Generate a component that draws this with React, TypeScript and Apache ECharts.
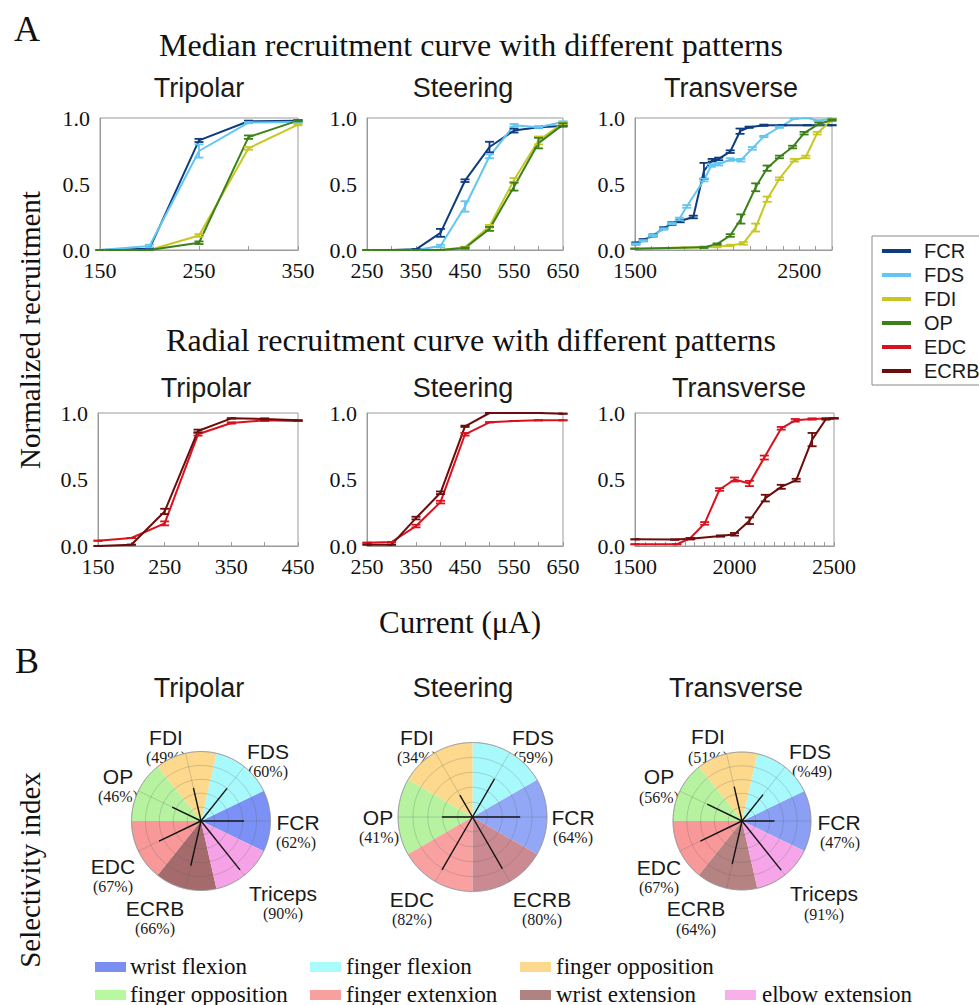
import React, { useEffect, useRef } from "react";
import * as echarts from "echarts";

const SERIF = "'Liberation Serif', 'Times New Roman', serif";
const SANS = "'Liberation Sans', Arial, sans-serif";

// ---------------- Panel A data ----------------
// Median, Tripolar
const medTriX = [150, 200, 250, 300, 350];
const medTriFCR = [0, 0.01, 0.83, 0.975, 0.98];
const medTriFCRErr = [0, 0.005, 0.012, 0.005, 0.005];
const medTriFDS = [0, 0.03, 0.75, 0.965, 0.97];
const medTriFDSErr = [0, 0.01, 0.05, 0.005, 0.005];
const medTriFDI = [0, 0.0, 0.11, 0.77, 0.95];
const medTriFDIErr = [0, 0, 0.01, 0.01, 0.005];
const medTriOP = [0, 0.0, 0.055, 0.855, 0.98];
const medTriOPErr = [0, 0, 0.01, 0.013, 0.005];

// Median, Steering
const medSteX = [250, 300, 350, 400, 450, 500, 550, 600, 650];
const medSteFCR = [0, 0, 0.005, 0.13, 0.525, 0.78, 0.905, 0.93, 0.94];
const medSteFCRErr = [0, 0, 0, 0.03, 0.01, 0.04, 0.015, 0.005, 0.005];
const medSteFDS = [0, 0, 0, 0.03, 0.33, 0.71, 0.945, 0.93, 0.97];
const medSteFDSErr = [0, 0, 0, 0.01, 0.04, 0.015, 0.01, 0.005, 0.005];
const medSteFDI = [0, 0, 0, 0, 0.02, 0.18, 0.53, 0.83, 0.96];
const medSteFDIErr = [0, 0, 0, 0, 0.005, 0.01, 0.015, 0.03, 0.01];
const medSteOP = [0, 0, 0, 0, 0.015, 0.16, 0.48, 0.81, 0.95];
const medSteOPErr = [0, 0, 0, 0, 0.005, 0.015, 0.03, 0.04, 0.01];

// Median, Transverse
const medTrvFCRX = [1505, 1550, 1610, 1675, 1725, 1775, 1855, 1920, 1970, 2010, 2080, 2140, 2195, 2285, 2400, 2550, 2700];
const medTrvFCR = [0.05, 0.075, 0.11, 0.165, 0.2, 0.22, 0.25, 0.6, 0.68, 0.69, 0.745, 0.9, 0.93, 0.945, 0.945, 0.945, 0.945];
const medTrvFCRErr = [0.008, 0.008, 0.008, 0.008, 0.01, 0.01, 0.01, 0.06, 0.01, 0.01, 0.01, 0.02, 0.005, 0.005, 0, 0, 0];
const medTrvFDSX = [1505, 1550, 1610, 1675, 1725, 1770, 1815, 1920, 1965, 2010, 2080, 2145, 2215, 2285, 2380, 2470, 2550, 2615, 2700];
const medTrvFDS = [0.045, 0.07, 0.11, 0.16, 0.2, 0.235, 0.33, 0.53, 0.64, 0.65, 0.685, 0.68, 0.77, 0.86, 0.93, 0.995, 1.0, 0.98, 0.995];
const medTrvFDSErr = [0.005, 0.005, 0.005, 0.005, 0.005, 0.01, 0.01, 0.01, 0.01, 0.01, 0.01, 0.01, 0.01, 0.005, 0.005, 0, 0, 0, 0];
const medTrvFDIX = [1500, 2000, 2080, 2160, 2235, 2305, 2380, 2470, 2540, 2610, 2700];
const medTrvFDI = [0.01, 0.025, 0.035, 0.05, 0.17, 0.385, 0.54, 0.68, 0.705, 0.885, 0.985];
const medTrvFDIErr = [0, 0.005, 0.005, 0.01, 0.03, 0.02, 0.01, 0.01, 0.01, 0.01, 0.005];
const medTrvOPX = [1500, 1920, 2000, 2080, 2145, 2235, 2305, 2380, 2460, 2530, 2620, 2700];
const medTrvOP = [0.01, 0.02, 0.045, 0.11, 0.235, 0.475, 0.62, 0.705, 0.78, 0.885, 0.955, 0.985];
const medTrvOPErr = [0, 0.005, 0.005, 0.01, 0.035, 0.03, 0.02, 0.01, 0.01, 0.01, 0.01, 0.005];

// Radial, Tripolar
const radTriX = [150, 200, 250, 300, 350, 400, 450];
const radTriEDC = [0.04, 0.06, 0.17, 0.84, 0.925, 0.945, 0.94];
const radTriEDCErr = [0, 0, 0.015, 0.01, 0.005, 0.005, 0];
const radTriECRB = [0.0, 0.01, 0.26, 0.865, 0.96, 0.955, 0.945];
const radTriECRBErr = [0, 0, 0.02, 0.01, 0, 0.005, 0];

// Radial, Steering
const radSteX = [250, 300, 350, 400, 450, 500, 550, 600, 650];
const radSteEDC = [0.025, 0.03, 0.15, 0.33, 0.84, 0.93, 0.94, 0.945, 0.945];
const radSteEDCErr = [0, 0, 0.01, 0.01, 0.01, 0, 0, 0, 0];
const radSteECRB = [0.01, 0.01, 0.21, 0.4, 0.9, 1.0, 1.0, 1.0, 0.995];
const radSteECRBErr = [0, 0, 0.01, 0.01, 0.005, 0, 0, 0, 0];

// Radial, Transverse
const radTrvEDCX = [1500, 1710, 1775, 1850, 1925, 2000, 2075, 2150, 2235, 2305, 2390, 2500];
const radTrvEDC = [0.013, 0.013, 0.055, 0.17, 0.425, 0.5, 0.47, 0.665, 0.885, 0.945, 0.955, 0.96];
const radTrvEDCErr = [0, 0, 0.005, 0.01, 0.01, 0.015, 0.02, 0.015, 0.01, 0.01, 0.005, 0];
const radTrvECRBX = [1500, 1700, 1780, 1930, 2000, 2075, 2155, 2235, 2310, 2390, 2460, 2500];
const radTrvECRB = [0.05, 0.048, 0.055, 0.075, 0.088, 0.19, 0.36, 0.445, 0.495, 0.8, 0.955, 0.96];
const radTrvECRBErr = [0, 0, 0.005, 0.005, 0.01, 0.025, 0.025, 0.015, 0.01, 0.05, 0.005, 0];

const lineLegend = ["FCR", "FDS", "FDI", "OP", "EDC", "ECRB"];
const subTitles = ["Tripolar", "Steering", "Transverse"];

// ---------------- Panel B data ----------------
const triNames = ["FCR", "FDS", "FDI", "OP", "EDC", "ECRB", "Triceps"];
const triSel = [0.62, 0.6, 0.49, 0.46, 0.67, 0.66, 0.9];
const triPct = ["(62%)", "(60%)", "(49%)", "(46%)", "(67%)", "(66%)", "(90%)"];
const steNames = ["FCR", "FDS", "FDI", "OP", "EDC", "ECRB"];
const steSel = [0.64, 0.59, 0.34, 0.41, 0.82, 0.8];
const stePct = ["(64%)", "(59%)", "(34%)", "(41%)", "(82%)", "(80%)"];
const trvNames = ["FCR", "FDS", "FDI", "OP", "EDC", "ECRB", "Triceps"];
const trvSel = [0.47, 0.49, 0.51, 0.56, 0.67, 0.64, 0.91];
const trvPct = ["(47%)", "(%49)", "(51%)", "(56%)", "(67%)", "(64%)", "(91%)"];

const movementLabels = [
  "wrist flexion", "finger flexion", "finger opposition",
  "finger opposition", "finger extenxion", "wrist extension", "elbow extension",
];

// ---------------- styles / layout ----------------
const LINE_COLORS: Record<string, string> = {
  FCR: "#0e3c7e", FDS: "#62c6f2", FDI: "#c7c724", OP: "#3c8019", EDC: "#d9111e", ECRB: "#6c0c0c",
};
const LEGEND_SWATCH = ["#7b8ff0", "#aafcfc", "#fdd990", "#b8f8a0", "#f8a0a0", "#b08282", "#f8b0e8"];
const SECTOR_COLORS = [
  ["#7b91f5", "#a8f9fb", "#fcd98c", "#b6f2a0", "#f89898", "#a56b6c", "#f6a2e6"],
  ["#93a7f7", "#a8f9fb", "#fcd98c", "#b6f2a0", "#f9a1a1", "#cb8a91"],
  ["#8b9ff5", "#a8f9fb", "#fcd98c", "#b6f2a0", "#f89898", "#b48382", "#f6a6e8"],
];

const GRIDS = [
  { left: 100, top: 118, width: 198, height: 132, min: 150, max: 350, interval: 50, step: 100 },
  { left: 367, top: 118, width: 196, height: 132, min: 250, max: 650, interval: 50, step: 100 },
  { left: 635, top: 118, width: 197, height: 132, min: 1500, max: 2700, interval: 100, step: 1000 },
  { left: 98, top: 413, width: 200, height: 133, min: 150, max: 450, interval: 50, step: 100 },
  { left: 367, top: 413, width: 196, height: 133, min: 250, max: 650, interval: 50, step: 100 },
  { left: 635, top: 413, width: 199, height: 133, min: 1500, max: 2500, interval: 50, step: 500 },
];
const SUBTITLE_POS = [
  [199, 88], [463, 88], [731, 88],
  [206, 388], [463, 388], [739, 388],
  [199, 688], [463, 688], [736, 688],
];
const POLARS = [
  { center: [201, 821], r: 69.5 },
  { center: [472.5, 817], r: 74.5 },
  { center: [742, 821], r: 69 },
];
// [nameX, nameY, pctX, pctY] per category
const POLAR_LABEL_POS = [
  [[298, 822, 296, 842], [268, 751, 268, 771], [166, 737, 166, 757], [118, 776, 118, 796], [113, 866, 113, 886], [155, 908, 155, 928], [283, 893, 283, 913]],
  [[573, 817, 573, 837], [533, 737, 533, 757], [417, 737, 417, 757], [378, 817, 379, 837], [412, 899, 412, 919], [542, 899, 542, 919]],
  [[839, 822, 840, 842], [810, 751, 812, 771], [708, 736, 708, 757], [659, 776, 659, 797], [659, 867, 659, 887], [696, 908, 696, 929], [824, 893, 824, 914]],
];
const LEGEND_POS = [
  [95, 966, 130], [310, 966, 346], [520, 966, 556],
  [95, 994, 130], [310, 994, 346], [520, 994, 556], [725, 994, 762],
];

type S = { name: string; xs: number[]; ys: number[]; es: number[] };
const PANELS: S[][] = [
  [
    { name: "FCR", xs: medTriX, ys: medTriFCR, es: medTriFCRErr },
    { name: "FDS", xs: medTriX, ys: medTriFDS, es: medTriFDSErr },
    { name: "FDI", xs: medTriX, ys: medTriFDI, es: medTriFDIErr },
    { name: "OP", xs: medTriX, ys: medTriOP, es: medTriOPErr },
  ],
  [
    { name: "FCR", xs: medSteX, ys: medSteFCR, es: medSteFCRErr },
    { name: "FDS", xs: medSteX, ys: medSteFDS, es: medSteFDSErr },
    { name: "FDI", xs: medSteX, ys: medSteFDI, es: medSteFDIErr },
    { name: "OP", xs: medSteX, ys: medSteOP, es: medSteOPErr },
  ],
  [
    { name: "FCR", xs: medTrvFCRX, ys: medTrvFCR, es: medTrvFCRErr },
    { name: "FDS", xs: medTrvFDSX, ys: medTrvFDS, es: medTrvFDSErr },
    { name: "FDI", xs: medTrvFDIX, ys: medTrvFDI, es: medTrvFDIErr },
    { name: "OP", xs: medTrvOPX, ys: medTrvOP, es: medTrvOPErr },
  ],
  [
    { name: "EDC", xs: radTriX, ys: radTriEDC, es: radTriEDCErr },
    { name: "ECRB", xs: radTriX, ys: radTriECRB, es: radTriECRBErr },
  ],
  [
    { name: "EDC", xs: radSteX, ys: radSteEDC, es: radSteEDCErr },
    { name: "ECRB", xs: radSteX, ys: radSteECRB, es: radSteECRBErr },
  ],
  [
    { name: "EDC", xs: radTrvEDCX, ys: radTrvEDC, es: radTrvEDCErr },
    { name: "ECRB", xs: radTrvECRBX, ys: radTrvECRB, es: radTrvECRBErr },
  ],
];
const POLAR_DATA = [
  { names: triNames, sel: triSel, pct: triPct },
  { names: steNames, sel: steSel, pct: stePct },
  { names: trvNames, sel: trvSel, pct: trvPct },
];

function buildOption() {
  const series: any[] = [];
  PANELS.forEach((panel, gi) => {
    panel.forEach((s) => {
      const c = LINE_COLORS[s.name];
      series.push({
        type: "line", name: s.name, xAxisIndex: gi, yAxisIndex: gi,
        data: s.xs.map((x, i) => [x, s.ys[i]]),
        showSymbol: false, symbol: "none", color: c,
        lineStyle: { color: c, width: 2 }, z: 2, silent: true,
      });
    });
  });
  PANELS.forEach((panel, gi) => {
    panel.forEach((s) => {
      const c = LINE_COLORS[s.name];
      series.push({
        type: "custom", name: s.name + " error", xAxisIndex: gi, yAxisIndex: gi,
        coordinateSystem: "cartesian2d",
        data: s.xs.map((x, i) => [x, s.ys[i], s.es[i]]),
        encode: { x: 0, y: 1 }, z: 3, silent: true,
        renderItem: (params: any, api: any) => {
          const x = api.value(0), y = api.value(1), e = api.value(2);
          const a = api.coord([x, y + e]);
          const b = api.coord([x, y - e]);
          const hw = 4.5;
          const style = { stroke: c, lineWidth: 1.8, fill: null };
          return {
            type: "group",
            children: [
              { type: "line", shape: { x1: a[0], y1: a[1], x2: b[0], y2: b[1] }, style },
              { type: "line", shape: { x1: a[0] - hw, y1: a[1], x2: a[0] + hw, y2: a[1] }, style },
              { type: "line", shape: { x1: b[0] - hw, y1: b[1], x2: b[0] + hw, y2: b[1] }, style },
            ],
          };
        },
      });
    });
  });

  const polar: any[] = [];
  const angleAxis: any[] = [];
  const radiusAxis: any[] = [];
  POLAR_DATA.forEach((pd, k) => {
    const P = POLARS[k];
    const n = pd.names.length;
    const band = 360 / n;
    polar.push({ center: P.center, radius: P.r });
    polar.push({ center: P.center, radius: P.r });
    angleAxis.push({
      polarIndex: 2 * k, type: "category", data: pd.names, startAngle: 360 - band / 2, clockwise: false,
      axisLine: { show: false }, axisTick: { show: false }, axisLabel: { show: false }, splitLine: { show: false },
    });
    radiusAxis.push({
      polarIndex: 2 * k, type: "value", min: 0, max: 1,
      axisLine: { show: false }, axisTick: { show: false }, axisLabel: { show: false }, splitLine: { show: false },
    });
    angleAxis.push({
      polarIndex: 2 * k + 1, type: "value", min: 0, max: 360, interval: band, startAngle: 0, clockwise: false, z: 3,
      axisLine: { show: true, lineStyle: { color: "#9a9a9a", width: 0.8 } }, axisTick: { show: false }, axisLabel: { show: false },
      splitLine: { show: true, lineStyle: { color: "rgba(90,90,90,0.35)", width: 0.7 } },
    });
    radiusAxis.push({
      polarIndex: 2 * k + 1, type: "value", min: 0, max: 1, interval: 0.2, z: 3,
      axisLine: { show: false }, axisTick: { show: false }, axisLabel: { show: false },
      splitLine: { show: true, lineStyle: { color: "rgba(90,90,90,0.35)", width: 0.7 } },
    });
    series.push({
      type: "bar", coordinateSystem: "polar", polarIndex: 2 * k, barCategoryGap: "0%", barGap: "0%",
      data: pd.names.map((nm, i) => ({ value: 1, name: nm, itemStyle: { color: SECTOR_COLORS[k][i] } })),
      silent: true, z: 1,
    });
    pd.sel.forEach((v, i) => {
      series.push({
        type: "line", coordinateSystem: "polar", polarIndex: 2 * k + 1,
        data: [[0, i * band], [v, i * band]],
        showSymbol: false, symbol: "none", lineStyle: { color: "#151515", width: 1.4 }, z: 5, silent: true,
      });
    });
  });

  const graphic: any[] = [];
  const txt = (text: string, x: number, y: number, font: string, size: number, extra: any = {}) => ({
    type: "text", x, y, silent: true,
    style: { text, fill: "#111", font: `${size}px ${font}`, textAlign: "center", textVerticalAlign: "middle", ...extra },
  });
  graphic.push(txt("A", 27, 29, SERIF, 36));
  graphic.push(txt("B", 27, 661, SERIF, 36));
  graphic.push(txt("Median recruitment curve with different patterns", 471, 45, SERIF, 32));
  graphic.push(txt("Radial recruitment curve with different patterns", 471, 340, SERIF, 32));
  graphic.push(txt("Current (\u03bcA)", 460, 622, SERIF, 31));
  graphic.push({ ...txt("Normalized recruitment", 0, 0, SERIF, 29), x: 30, y: 330, rotation: Math.PI / 2 });
  graphic.push({ ...txt("Selectivity index", 0, 0, SERIF, 29), x: 30, y: 870, rotation: Math.PI / 2 });
  SUBTITLE_POS.forEach((p, i) => graphic.push(txt(subTitles[i % 3], p[0], p[1], SANS, 27, { fill: "#1a1a1a" })));
  POLAR_DATA.forEach((pd, k) => {
    pd.names.forEach((nm, i) => {
      const p = POLAR_LABEL_POS[k][i];
      graphic.push(txt(nm, p[0], p[1], SANS, 21, { fill: "#1a1a1a" }));
      graphic.push(txt(pd.pct[i], p[2], p[3], SERIF, 16, { fill: "#1a1a1a" }));
    });
  });
  movementLabels.forEach((lab, i) => {
    const p = LEGEND_POS[i];
    graphic.push({ type: "rect", shape: { x: p[0], y: p[1] - 4, width: 31, height: 10 }, style: { fill: LEGEND_SWATCH[i] }, silent: true });
    graphic.push(txt(lab, p[2], p[1], SERIF, 23, { textAlign: "left" }));
  });

  return {
    animation: false,
    backgroundColor: "#ffffff",
    legend: {
      data: lineLegend, orient: "vertical", left: 872, top: 236,
      padding: [5, 10, 4, 10], itemGap: 4, itemWidth: 29, itemHeight: 4, icon: "rect",
      borderColor: "#8a8a8a", borderWidth: 1, selectedMode: false,
      textStyle: { fontFamily: SANS, fontSize: 20, color: "#1a1a1a", lineHeight: 20, padding: [0, 0, 0, 8] },
    },
    grid: GRIDS.map((g) => ({
      left: g.left, top: g.top, width: g.width, height: g.height,
      show: true, borderColor: "#9a9a9a", borderWidth: 1, backgroundColor: "transparent",
    })),
    xAxis: GRIDS.map((g, i) => ({
      gridIndex: i, type: "value", min: g.min, max: g.max, interval: g.interval,
      axisLine: { show: true, lineStyle: { color: "#9a9a9a" } },
      axisTick: { show: true, inside: true, length: 4, lineStyle: { color: "#9a9a9a" } },
      splitLine: { show: false },
      axisLabel: {
        fontFamily: SERIF, fontSize: 22, color: "#111", margin: 9,
        formatter: (v: number) => ((v - g.min) % g.step === 0 ? String(v) : ""),
      },
    })),
    yAxis: GRIDS.map((g, i) => ({
      gridIndex: i, type: "value", min: 0, max: 1, interval: 0.5,
      axisLine: { show: true, lineStyle: { color: "#9a9a9a" } },
      axisTick: { show: false }, splitLine: { show: false },
      axisLabel: { fontFamily: SERIF, fontSize: 22, color: "#111", margin: 10, formatter: (v: number) => v.toFixed(1) },
    })),
    polar, angleAxis, radiusAxis,
    series,
    graphic,
  };
}

export default function App() {
  const ref = useRef<HTMLDivElement>(null);
  useEffect(() => {
    if (!ref.current) return;
    const chart = echarts.init(ref.current, undefined, { renderer: "svg" });
    chart.setOption(buildOption() as any);
    return () => chart.dispose();
  }, []);
  return (
    <div
      ref={ref}
      style={{ position: "absolute", left: 0, top: 0, width: 979, height: 1005, background: "#fff" }}
    />
  );
}
